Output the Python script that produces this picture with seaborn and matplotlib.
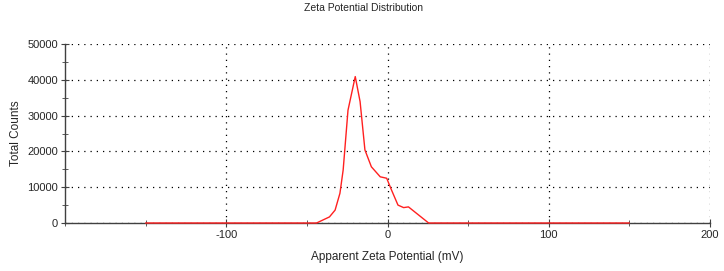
import pandas as pd
import matplotlib.pyplot as plt
from matplotlib.ticker import MultipleLocator
import seaborn as sns

# zeta potential (mV) vs total counts
zeta_mv = [-150, -44, -36, -32.5, -29.5, -27.5, -24.5, -20, -17, -14, -10, -4.5, -0.5,
           2.5, 6.5, 10, 13, 25.5, 150]
counts = [0, 0, 1700, 3600, 8300, 14800, 31500, 40900, 33900, 20400, 15700, 12900, 12500,
          9200, 5000, 4300, 4500, 0, 0]

df = pd.DataFrame({'zeta': zeta_mv, 'counts': counts})

sns.set_style('ticks')
plt.rcParams['font.family'] = ['Liberation Sans', 'DejaVu Sans']

fig = plt.figure(figsize=(7.24, 2.71), dpi=100)
ax = fig.add_axes([65 / 724, (271 - 223) / 271, 645 / 724, 179 / 271])

sns.lineplot(data=df, x='zeta', y='counts', color='#ff2020', linewidth=1.0, ax=ax,
             zorder=3, clip_on=False)

ax.set_xlim(-200, 200)
ax.set_ylim(0, 50000)
ax.xaxis.set_major_locator(MultipleLocator(100))
ax.xaxis.set_minor_locator(MultipleLocator(50))
ax.yaxis.set_major_locator(MultipleLocator(10000))
ax.yaxis.set_minor_locator(MultipleLocator(5000))
ax.set_xticks([-100, 0, 100, 200])
ax.set_xticklabels(['-100', '0', '100', '200'])

ax.grid(True, which='major', color='black', linestyle=(0, (1, 4)), linewidth=0.9)
for s in ['top', 'right']:
    ax.spines[s].set_visible(False)
for s in ['left', 'bottom']:
    ax.spines[s].set_color('#404040')
    ax.spines[s].set_linewidth(1.0)
ax.tick_params(which='both', direction='inout', color='#404040', labelsize=8, pad=2)
ax.tick_params(which='major', length=6)
ax.tick_params(which='minor', length=5)

ax.set_xlabel('Apparent Zeta Potential (mV)', fontsize=8.5, labelpad=8)
ax.set_ylabel('Total Counts', fontsize=8.5, labelpad=4)
fig.text(363 / 724, 1 - 8 / 271, 'Zeta Potential Distribution', ha='center', va='center', fontsize=7.5)

fig.savefig('out.png', dpi=100)
